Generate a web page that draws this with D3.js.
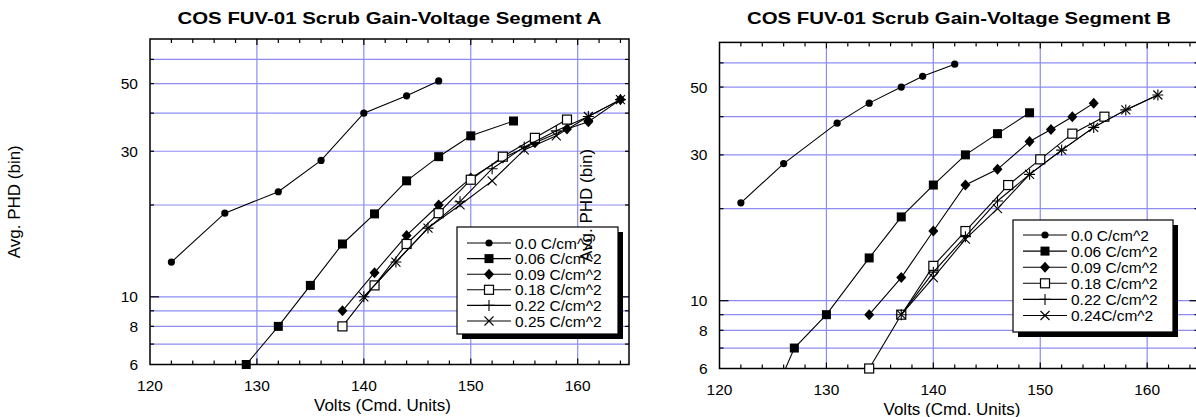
<!DOCTYPE html>
<html>
<head>
<meta charset="utf-8">
<script src="https://cdn.jsdelivr.net/npm/d3@7/dist/d3.min.js"></script>
<style>
  body { margin: 0; background: #fff; }
  svg text { font-family: Arial, "Liberation Sans", sans-serif; fill: #000; }
</style>
</head>
<body>
<svg id="chart" width="1196" height="417"></svg>
<script>
// axis ticks
var voltTicks = [120, 130, 140, 150, 160];
var phdTicks = [6, 8, 10, 30, 50];
var phdGrid = [7, 8, 9, 10, 20, 30, 40, 50, 60];

// Segment A
var legendA = ['0.0 C/cm^2', '0.06 C/cm^2', '0.09 C/cm^2', '0.18 C/cm^2', '0.22 C/cm^2', '0.25 C/cm^2'];
var voltsA00 = [122, 127, 132, 136, 140, 144, 147];
var phdA00   = [13, 18.8, 22.1, 28, 40, 45.6, 51];
var voltsA06 = [129, 132, 135, 138, 141, 144, 147, 150, 154];
var phdA06   = [6, 8, 10.9, 14.9, 18.7, 24, 28.8, 33.7, 37.7];
var voltsA09 = [138, 141, 144, 147, 150, 153, 156, 159, 161, 164];
var phdA09   = [9, 12, 15.9, 20, 24.5, 28.5, 32, 35.5, 37.5, 44.3];
var voltsA18 = [138, 141, 144, 147, 150, 153, 156, 159];
var phdA18   = [8, 10.9, 14.9, 18.8, 24.2, 28.8, 33.2, 38.1];
var voltsA22 = [140, 143, 146, 149, 152, 155, 158, 161, 164];
var phdA22   = [10, 13, 16.8, 20.5, 26.3, 31, 35, 39, 44.3];
var voltsA25 = [140, 143, 146, 149, 152, 155, 158, 161, 164];
var phdA25   = [10, 13, 16.8, 20, 24, 30.3, 33.7, 39, 44.3];

// Segment B
var legendB = ['0.0 C/cm^2', '0.06 C/cm^2', '0.09 C/cm^2', '0.18 C/cm^2', '0.22 C/cm^2', '0.24C/cm^2'];
var voltsB00 = [122, 126, 131, 134, 137, 139, 142];
var phdB00   = [20.9, 28.1, 38.1, 44.3, 50, 54.2, 59.4];
var voltsB06 = [124, 127, 130, 134, 137, 140, 143, 146, 149];
var phdB06   = [4.0, 7, 9, 13.8, 18.8, 23.9, 30, 35.2, 41.2];
var voltsB09 = [134, 137, 140, 143, 146, 149, 151, 153, 155];
var phdB09   = [9, 11.9, 16.9, 23.9, 26.9, 33.2, 36.3, 40, 44.3];
var voltsB18 = [134, 137, 140, 143, 147, 150, 153, 156];
var phdB18   = [6, 9, 13, 16.9, 23.9, 29, 35.2, 40];
var voltsB22 = [137, 140, 143, 146, 149, 152, 155, 158, 161];
var phdB22   = [9, 12.4, 16.2, 21.2, 25.9, 31.1, 36.9, 42.1, 47.1];
var voltsB24 = [137, 140, 143, 146, 149, 152, 155, 158, 161];
var phdB24   = [9, 11.9, 15.9, 20, 25.9, 31.1, 36.9, 42.1, 47.1];

var markers = ['circle', 'square', 'diamond', 'open', 'plus', 'cross'];

function main() {

(function () {
    'use strict';

    var svg = d3.select('#chart');

    function zip(xs, ys) {
        return xs.map(function (x, i) { return { x: x, y: ys[i] }; });
    }

    /*====================================
    Markers
    ======================================*/

    function drawMarker(g, type, cx, cy) {
        if (type === 'circle') {
            g.append('circle').attr('cx', cx).attr('cy', cy).attr('r', 3.6).attr('fill', '#000');
        } else if (type === 'square') {
            g.append('rect').attr('x', cx - 4.5).attr('y', cy - 4.5).attr('width', 9).attr('height', 9).attr('fill', '#000');
        } else if (type === 'diamond') {
            g.append('path')
                .attr('d', 'M' + cx + ',' + (cy - 5.5) + 'L' + (cx + 5) + ',' + cy + 'L' + cx + ',' + (cy + 5.5) + 'L' + (cx - 5) + ',' + cy + 'Z')
                .attr('fill', '#000');
        } else if (type === 'open') {
            g.append('rect').attr('x', cx - 4.5).attr('y', cy - 4.5).attr('width', 9).attr('height', 9)
                .attr('fill', '#fff').attr('stroke', '#000').attr('stroke-width', 1.2);
        } else if (type === 'plus') {
            g.append('path')
                .attr('d', 'M' + (cx - 5.5) + ',' + cy + 'H' + (cx + 5.5) + 'M' + cx + ',' + (cy - 5.5) + 'V' + (cy + 5.5))
                .attr('stroke', '#000').attr('stroke-width', 1.1).attr('fill', 'none');
        } else {
            g.append('path')
                .attr('d', 'M' + (cx - 4.5) + ',' + (cy - 4.5) + 'L' + (cx + 4.5) + ',' + (cy + 4.5) +
                           'M' + (cx + 4.5) + ',' + (cy - 4.5) + 'L' + (cx - 4.5) + ',' + (cy + 4.5))
                .attr('stroke', '#000').attr('stroke-width', 1.1).attr('fill', 'none');
        }
    }

    /*====================================
    Panel
    ======================================*/

    function drawPanel(p) {
        var g = svg.append('g');
        var x = d3.scaleLinear().domain([120, 164.8]).range([p.left, p.right]);
        var y = d3.scaleLog().domain([6, 70]).range([p.bottom, p.top]);
        var clipId = 'clip-' + p.id;

        g.append('clipPath').attr('id', clipId)
            .append('rect').attr('x', p.left).attr('y', p.top)
            .attr('width', p.right - p.left).attr('height', p.bottom - p.top);

        // grid
        g.selectAll('.hgrid').data(phdGrid).enter().append('line')
            .attr('x1', p.left).attr('x2', p.right)
            .attr('y1', function (d) { return y(d); }).attr('y2', function (d) { return y(d); })
            .attr('stroke', '#8c8cf2').attr('stroke-width', 1.2);
        g.selectAll('.vgrid').data(voltTicks.slice(1)).enter().append('line')
            .attr('y1', p.top).attr('y2', p.bottom)
            .attr('x1', function (d) { return x(d); }).attr('x2', function (d) { return x(d); })
            .attr('stroke', '#8c8cf2').attr('stroke-width', 1.2);

        // inner ticks, bottom and top
        var minor = d3.range(122, 165, 2);
        minor.forEach(function (v) {
            var len = v % 10 === 0 ? 6 : 4;
            g.append('line').attr('x1', x(v)).attr('x2', x(v)).attr('y1', p.bottom).attr('y2', p.bottom - len)
                .attr('stroke', '#000').attr('stroke-width', 1.2);
            g.append('line').attr('x1', x(v)).attr('x2', x(v)).attr('y1', p.top).attr('y2', p.top + len)
                .attr('stroke', '#000').attr('stroke-width', 1.2);
        });
        phdGrid.forEach(function (v) {
            var len = v === 10 ? 9 : 4;
            g.append('line').attr('x1', p.left).attr('x2', p.left + len).attr('y1', y(v)).attr('y2', y(v))
                .attr('stroke', '#000').attr('stroke-width', 1.2);
            g.append('line').attr('x1', p.right).attr('x2', p.right - len).attr('y1', y(v)).attr('y2', y(v))
                .attr('stroke', '#000').attr('stroke-width', 1.2);
        });

        // frame
        g.append('rect').attr('x', p.left).attr('y', p.top)
            .attr('width', p.right - p.left).attr('height', p.bottom - p.top)
            .attr('fill', 'none').attr('stroke', '#000').attr('stroke-width', 1.5);

        // tick labels
        g.selectAll('.xlab').data(voltTicks).enter().append('text')
            .attr('x', function (d) { return x(d); }).attr('y', p.bottom + 26)
            .attr('text-anchor', 'middle').style('font-size', '15.5px')
            .text(function (d) { return d; });
        g.selectAll('.ylab').data(phdTicks).enter().append('text')
            .attr('x', p.left - 12).attr('y', function (d) { return y(d) + 5.5; })
            .attr('text-anchor', 'end').style('font-size', '15.5px')
            .text(function (d) { return d; });

        // axis titles
        g.append('text').attr('x', (p.left + p.right) / 2 - 7).attr('y', p.bottom + 46)
            .attr('text-anchor', 'middle').style('font-size', '17px')
            .text('Volts (Cmd. Units)');
        g.append('text')
            .attr('transform', 'translate(' + p.ylabelX + ',' + (p.top + p.bottom) / 2 + ') rotate(-90)')
            .attr('text-anchor', 'middle').style('font-size', '17px')
            .text('Avg. PHD (bin)');

        // title
        g.append('text').attr('x', (p.left + p.right) / 2).attr('y', 24)
            .attr('text-anchor', 'middle').style('font-size', '17px').style('font-weight', 'bold')
            .attr('textLength', 424).attr('lengthAdjust', 'spacingAndGlyphs')
            .text(p.title);

        // series
        var line = d3.line().x(function (d) { return x(d.x); }).y(function (d) { return y(d.y); });
        p.series.forEach(function (s, i) {
            var pts = zip(s[0], s[1]);
            g.append('path').datum(pts).attr('d', line)
                .attr('clip-path', 'url(#' + clipId + ')')
                .attr('fill', 'none').attr('stroke', '#000').attr('stroke-width', 1.1);
            var mg = g.append('g');
            pts.forEach(function (d) {
                if (d.y >= 6) { drawMarker(mg, markers[i], x(d.x), y(d.y)); }
            });
        });

        // legend
        var lg = p.legend;
        g.append('rect').attr('x', lg.x + 5).attr('y', lg.y + 5).attr('width', lg.w).attr('height', lg.h).attr('fill', '#000');
        g.append('rect').attr('x', lg.x).attr('y', lg.y).attr('width', lg.w).attr('height', lg.h)
            .attr('fill', '#fff').attr('stroke', '#000').attr('stroke-width', 1.2);
        p.labels.forEach(function (t, i) {
            var ry = lg.y + lg.first + i * lg.step;
            g.append('line').attr('x1', lg.x + 10).attr('x2', lg.x + 54).attr('y1', ry).attr('y2', ry)
                .attr('stroke', '#000').attr('stroke-width', 1.1);
            drawMarker(g, markers[i], lg.x + 32, ry);
            g.append('text').attr('x', lg.x + 58).attr('y', ry + 5.5)
                .style('font-size', '15.5px').text(t);
        });
    }

    drawPanel({
        id: 'a', left: 150, right: 629, top: 39, bottom: 364.5, ylabelX: 20,
        title: 'COS FUV-01 Scrub Gain-Voltage Segment A',
        series: [[voltsA00, phdA00], [voltsA06, phdA06], [voltsA09, phdA09],
                 [voltsA18, phdA18], [voltsA22, phdA22], [voltsA25, phdA25]],
        labels: legendA,
        legend: { x: 457, y: 227, w: 161, h: 107, first: 16, step: 15.6 }
    });

    drawPanel({
        id: 'b', left: 719.5, right: 1198.5, top: 42.4, bottom: 368.5, ylabelX: 592,
        title: 'COS FUV-01 Scrub Gain-Voltage Segment B',
        series: [[voltsB00, phdB00], [voltsB06, phdB06], [voltsB09, phdB09],
                 [voltsB18, phdB18], [voltsB22, phdB22], [voltsB24, phdB24]],
        labels: legendB,
        legend: { x: 1013, y: 220, w: 160, h: 112, first: 15, step: 16.1 }
    });

}());
}
main();
</script>
</body>
</html>
